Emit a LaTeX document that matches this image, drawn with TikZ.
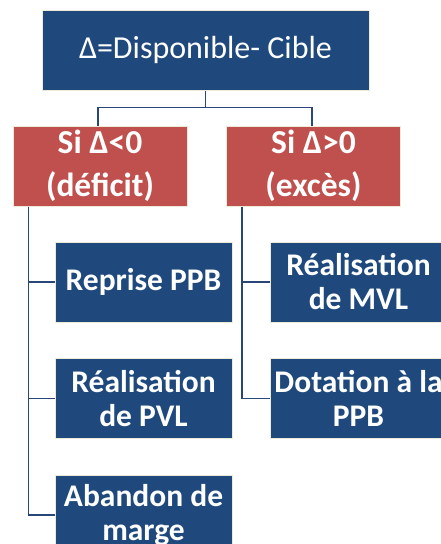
\documentclass[tikz,border=0pt]{standalone}
\usepackage{fontspec}
\setmainfont{Carlito}
\definecolor{boxblue}{RGB}{31,73,125}
\definecolor{boxred}{RGB}{192,80,77}
\definecolor{rim}{RGB}{238,234,218}
\definecolor{wire}{RGB}{40,70,120}
\begin{document}
\begin{tikzpicture}[x=1pt,y=-1pt,
  box/.style={draw=rim, line width=1pt, text=white, align=center, inner sep=0pt,
    minimum height=80pt},
  headbox/.style={box, fill=boxblue, minimum width=327pt,
    font=\fontsize{32}{38}\selectfont},
  casebox/.style={box, fill=boxred, minimum width=174pt,
    font=\fontsize{33.5}{43}\selectfont\bfseries},
  actbox/.style={box, fill=boxblue, minimum width=177pt,
    font=\fontsize{31.5}{34}\selectfont\bfseries},
  wireline/.style={draw=wire, line width=1.4pt}]
\useasboundingbox (0,0) rectangle (441,544);
\clip (0,0) rectangle (441,544);
\fill[white] (0,0) rectangle (441,544);

\node[headbox] (top) at (205.5,50) {Δ=Disponible- Cible};
\node[casebox] (neg) at (100,166) {Si Δ<0\\(déficit)};
\node[casebox] (pos) at (313.5,166) {Si Δ>0\\(excès)};

\node[actbox] (a1) at (143.5,282) {Reprise PPB};
\node[actbox] (a2) at (143.5,398.5) {Réalisation\\de PVL};
\node[actbox] (a3) at (143.5,515) {Abandon de\\marge};

\node[actbox] (b1) at (358.5,282) {Réalisation\\de MVL};
\node[actbox] (b2) at (358.5,398.5) {Dotation à la\\PPB};

% tree from the head to the two cases
\coordinate (fork) at ([yshift=-17pt]top.south);
\draw[wireline] (top.south) -- (fork);
\draw[wireline] (fork) -| ([xshift=-2pt]neg.north);
\draw[wireline] (fork) -| ([xshift=-1.5pt]pos.north);

% trunks under each case
\coordinate (ltrunk) at ([xshift=16pt]neg.south west);
\coordinate (rtrunk) at ([xshift=16pt]pos.south west);
\draw[wireline] (ltrunk) |- (a1.west);
\draw[wireline] (ltrunk) |- (a2.west);
\draw[wireline] (ltrunk) |- (a3.west);
\draw[wireline] (rtrunk) |- (b1.west);
\draw[wireline] (rtrunk) |- (b2.west);
\end{tikzpicture}
\end{document}
